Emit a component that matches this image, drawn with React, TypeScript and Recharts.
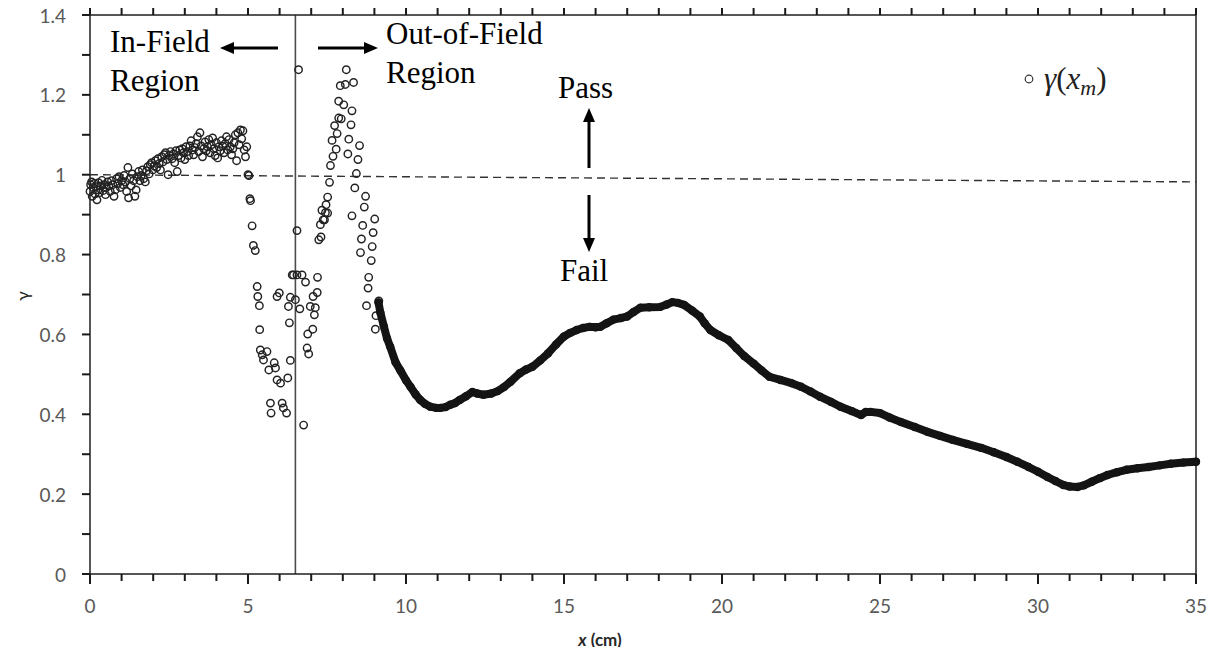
import React from 'react';
import { ScatterChart, Scatter, XAxis, YAxis, ReferenceLine } from 'recharts';

// axis ticks
const X_TICKS = [0, 1, 2, 3, 4, 5, 6, 7, 8, 9, 10, 11, 12, 13, 14, 15, 16, 17, 18, 19, 20, 21, 22, 23, 24, 25, 26, 27, 28, 29, 30, 31, 32, 33, 34, 35];
const X_LABELS = [0, 5, 10, 15, 20, 25, 30, 35];
const Y_TICKS = [0, 0.1, 0.2, 0.3, 0.4, 0.5, 0.6, 0.7, 0.8, 0.9, 1, 1.1, 1.2, 1.3, 1.4];
const Y_LABELS = [0, 0.2, 0.4, 0.6, 0.8, 1, 1.2, 1.4];
const RIGHT_TICKS = [0, 0.1, 0.2, 0.3, 0.4, 0.5, 0.6, 0.7, 0.8, 0.9, 1];

// gamma values, in-field (x < 5 cm)
const inField = [
  [0.00, 0.958], [0.02, 0.975], [0.05, 0.982], [0.07, 0.946], [0.10, 0.968], [0.13, 0.978], [0.16, 0.952],
  [0.19, 0.970], [0.22, 0.937], [0.25, 0.962], [0.27, 0.980], [0.30, 0.955], [0.34, 0.972], [0.38, 0.986],
  [0.41, 0.960], [0.45, 0.975], [0.49, 0.950], [0.52, 0.968], [0.56, 0.982], [0.60, 0.972], [0.64, 0.958],
  [0.68, 0.985], [0.72, 0.975], [0.76, 0.946], [0.80, 0.962], [0.84, 0.990], [0.88, 0.978], [0.92, 0.995],
  [0.96, 0.968], [1.00, 0.985], [1.04, 0.975], [1.08, 0.998], [1.12, 0.982], [1.16, 0.958], [1.20, 1.018],
  [1.22, 0.942], [1.26, 0.990], [1.30, 0.972], [1.34, 1.002], [1.38, 0.985], [1.42, 0.946], [1.46, 0.962],
  [1.50, 0.995], [1.54, 1.008], [1.58, 0.985], [1.62, 0.998], [1.66, 1.012], [1.70, 0.990], [1.75, 0.982],
  [1.79, 1.010], [1.83, 1.020], [1.87, 1.002], [1.91, 1.025], [1.95, 1.030], [1.99, 1.012], [2.03, 1.022],
  [2.07, 1.035], [2.11, 1.018], [2.15, 1.040], [2.19, 1.028], [2.23, 1.012], [2.27, 1.045], [2.31, 1.032],
  [2.35, 1.050], [2.39, 1.055], [2.43, 1.038], [2.47, 1.000], [2.51, 1.048], [2.55, 1.058], [2.60, 1.040],
  [2.64, 1.052], [2.68, 1.030], [2.72, 1.060], [2.76, 1.008], [2.80, 1.048], [2.84, 1.062], [2.88, 1.042],
  [2.92, 1.065], [2.96, 1.055], [3.00, 1.038], [3.04, 1.070], [3.08, 1.058], [3.12, 1.048], [3.16, 1.072],
  [3.20, 1.085], [3.24, 1.062], [3.28, 1.050], [3.32, 1.068], [3.36, 1.078], [3.40, 1.095], [3.44, 1.058],
  [3.48, 1.105], [3.52, 1.072], [3.56, 1.045], [3.60, 1.065], [3.64, 1.082], [3.68, 1.060], [3.72, 1.070],
  [3.76, 1.088], [3.80, 1.055], [3.84, 1.075], [3.88, 1.092], [3.92, 1.065], [3.96, 1.048], [4.00, 1.080],
  [4.04, 1.042], [4.08, 1.070], [4.12, 1.060], [4.16, 1.085], [4.20, 1.072], [4.24, 1.055], [4.28, 1.078],
  [4.32, 1.095], [4.36, 1.062], [4.40, 1.088], [4.44, 1.070], [4.48, 1.050], [4.52, 1.065], [4.56, 1.080],
  [4.60, 1.100], [4.64, 1.035], [4.68, 1.105], [4.72, 1.075], [4.76, 1.112], [4.80, 1.090], [4.84, 1.110],
  [4.88, 1.062], [4.92, 1.045], [4.96, 1.070],
];

// gamma values, penumbra / near out-of-field (scattered)
const penumbra = [
  [5.00, 1.000], [5.03, 0.998], [5.06, 0.940], [5.08, 0.935], [5.13, 0.872], [5.17, 0.823], [5.23, 0.810],
  [5.29, 0.720], [5.31, 0.695], [5.36, 0.672], [5.37, 0.612], [5.39, 0.561], [5.45, 0.549], [5.49, 0.536],
  [5.60, 0.557], [5.66, 0.511], [5.71, 0.428], [5.73, 0.403], [5.83, 0.529], [5.87, 0.516], [5.92, 0.486],
  [5.92, 0.695], [5.99, 0.704], [6.03, 0.478], [6.08, 0.428], [6.12, 0.416], [6.22, 0.403], [6.26, 0.491],
  [6.28, 0.670], [6.31, 0.629], [6.34, 0.535], [6.34, 0.693], [6.40, 0.749], [6.44, 0.749], [6.50, 0.687],
  [6.55, 0.749], [6.55, 0.860], [6.60, 1.263], [6.64, 0.664], [6.71, 0.749], [6.76, 0.373], [6.82, 0.731],
  [6.87, 0.566], [6.89, 0.601], [6.92, 0.551], [6.97, 0.670], [7.05, 0.613], [7.06, 0.695], [7.10, 0.649],
  [7.13, 0.667], [7.19, 0.705], [7.20, 0.743], [7.24, 0.837], [7.29, 0.875], [7.31, 0.844], [7.34, 0.911],
  [7.38, 0.887], [7.42, 0.887], [7.45, 0.905], [7.47, 0.925], [7.52, 0.944], [7.52, 0.904], [7.58, 0.981],
  [7.61, 1.023], [7.66, 1.086], [7.69, 1.046], [7.74, 1.123], [7.79, 1.064], [7.82, 1.103], [7.87, 1.184],
  [7.87, 1.142], [7.92, 1.223], [7.95, 1.140], [8.03, 1.175], [8.08, 1.226], [8.11, 1.263], [8.16, 1.052],
  [8.19, 1.089], [8.26, 1.125], [8.29, 1.160], [8.29, 0.897], [8.34, 1.231], [8.38, 0.967], [8.43, 1.003],
  [8.48, 1.038], [8.53, 1.073], [8.56, 0.805], [8.59, 0.839], [8.63, 0.873], [8.68, 0.919], [8.72, 0.946],
  [8.75, 0.672], [8.80, 0.716], [8.82, 0.743], [8.90, 0.785], [8.93, 0.820], [8.96, 0.855], [9.01, 0.889],
  [9.03, 0.613], [9.05, 0.647], [9.14, 0.684],
];

// gamma values, far out-of-field (densely sampled, reads as a thick curve)
const outField = [
  [9.13, 0.680], [9.19, 0.654], [9.30, 0.620], [9.40, 0.590], [9.50, 0.569], [9.67, 0.530], [9.82, 0.510],
  [10.00, 0.485], [10.14, 0.469], [10.30, 0.450], [10.45, 0.436], [10.60, 0.426], [10.77, 0.419], [10.95, 0.416],
  [11.09, 0.416], [11.25, 0.418], [11.40, 0.424], [11.55, 0.428], [11.70, 0.436], [11.90, 0.445], [12.10, 0.456],
  [12.25, 0.452], [12.45, 0.449], [12.70, 0.452], [12.90, 0.458], [13.10, 0.468], [13.30, 0.481], [13.60, 0.503],
  [13.80, 0.512], [14.00, 0.519], [14.25, 0.535], [14.50, 0.553], [14.75, 0.575], [15.00, 0.595], [15.20, 0.604],
  [15.40, 0.611], [15.60, 0.616], [15.80, 0.619], [16.00, 0.618], [16.15, 0.619], [16.35, 0.628], [16.56, 0.637],
  [16.80, 0.641], [17.00, 0.645], [17.20, 0.656], [17.42, 0.667], [17.70, 0.668], [18.05, 0.669], [18.25, 0.675],
  [18.43, 0.681], [18.60, 0.679], [18.80, 0.674], [19.05, 0.660], [19.30, 0.645], [19.45, 0.628], [19.63, 0.611],
  [19.90, 0.598], [20.20, 0.586], [20.45, 0.566], [20.70, 0.546], [21.00, 0.527], [21.25, 0.510], [21.50, 0.494],
  [21.85, 0.486], [22.20, 0.478], [22.50, 0.469], [22.80, 0.457], [23.10, 0.444], [23.45, 0.431], [23.75, 0.419],
  [24.10, 0.408], [24.40, 0.398], [24.55, 0.406], [24.70, 0.406], [25.00, 0.403], [25.30, 0.392], [25.65, 0.381],
  [26.10, 0.368], [26.50, 0.356], [26.90, 0.346], [27.30, 0.336], [27.75, 0.326], [28.20, 0.316], [28.60, 0.305],
  [29.00, 0.293], [29.35, 0.281], [29.70, 0.268], [30.00, 0.256], [30.30, 0.243], [30.55, 0.233], [30.80, 0.223],
  [31.00, 0.219], [31.25, 0.218], [31.45, 0.222], [31.70, 0.231], [31.95, 0.240], [32.20, 0.248], [32.50, 0.255],
  [32.80, 0.261], [33.15, 0.265], [33.50, 0.268], [33.85, 0.272], [34.20, 0.276], [34.60, 0.279], [35.00, 0.281],
];

const FIELD_EDGE = 6.5;
const PASS_LINE = [{ x: 0, y: 1 }, { x: 35, y: 0.982 }];

const toPts = (arr: number[][]) => arr.map(([x, y]) => ({ x, y }));

// tick positions on each frame edge, placed through the axis scales
const bottomMarks = X_TICKS.map((t) => ({ x: t, y: 0, major: X_LABELS.includes(t) }));
const topMarks = X_TICKS.map((t) => ({ x: t, y: 1.4 }));
const leftMarks = Y_TICKS.map((t) => ({ x: 0, y: t }));
const rightMarks = RIGHT_TICKS.map((t) => ({ x: 35, y: t }));

const W = 1218;
const H = 655;
const AXIS = '#1e1e1e';
const LABEL = '#595959';
const TICK_FONT = 'Lato, "Open Sans", sans-serif';
const SERIF = '"Liberation Serif", "Times New Roman", serif';
const MARK = '#1a1a1a';

const BottomTick = (props: any) => {
  const { x, y, payload } = props;
  if (!X_LABELS.includes(payload.value)) return <g />;
  return (
    <text x={x} y={y + 31} textAnchor="middle" dominantBaseline="central" fill={LABEL} fontSize={19} fontFamily={TICK_FONT}>
      {payload.value}
    </text>
  );
};

const LeftTick = (props: any) => {
  const { x, y, payload } = props;
  const v = Math.round(payload.value * 10) / 10;
  const labelled = Y_LABELS.some((l) => Math.abs(l - v) < 1e-6);
  if (!labelled) return <g />;
  return (
    <text x={x - 24} y={y} textAnchor="end" dominantBaseline="central" fill={LABEL} fontSize={19} fontFamily={TICK_FONT}>
      {String(v)}
    </text>
  );
};

const NoLabel = () => <g />;

const BottomMark = (props: any) => {
  const { cx, cy, payload } = props;
  const len = payload && payload.major ? 10 : 7;
  return <path d={`M${cx},${cy}L${cx},${cy + len}`} stroke={MARK} strokeWidth={2} fill="none" />;
};
const TopMark = ({ cx, cy }: any) => (
  <path d={`M${cx},${cy}L${cx},${cy - 7}`} stroke={MARK} strokeWidth={2} fill="none" />
);
const LeftMark = ({ cx, cy }: any) => (
  <path d={`M${cx},${cy}L${cx - 8},${cy}`} stroke={MARK} strokeWidth={2} fill="none" />
);
const RightMark = ({ cx, cy }: any) => (
  <path d={`M${cx},${cy}L${cx + 8},${cy}`} stroke={MARK} strokeWidth={2} fill="none" />
);

const OpenCircle = ({ cx, cy }: any) => (
  <circle cx={cx} cy={cy} r={3.7} fill="none" stroke="#222" strokeWidth={1.45} />
);

const DenseDot = ({ cx, cy }: any) => <circle cx={cx} cy={cy} r={4.2} fill="#141414" />;

const Arrow = ({ x1, y1, x2, y2 }: { x1: number; y1: number; x2: number; y2: number }) => {
  const ang = Math.atan2(y2 - y1, x2 - x1);
  const len = 14;
  const half = 6;
  const bx = x2 - len * Math.cos(ang);
  const by = y2 - len * Math.sin(ang);
  const px = -Math.sin(ang) * half;
  const py = Math.cos(ang) * half;
  return (
    <g>
      <line x1={x1} y1={y1} x2={bx} y2={by} stroke="#000" strokeWidth={3} />
      <polygon points={`${x2},${y2} ${bx + px},${by + py} ${bx - px},${by - py}`} fill="#000" />
    </g>
  );
};

export default function App() {
  return (
    <div style={{ position: 'relative', width: W, height: H, margin: -8 }}>
      <svg width={W} height={H} style={{ position: 'absolute', left: 0, top: 0 }}>
        {/* region annotations */}
        <text x={110} y={52} fontSize={31} fontFamily={SERIF} fill="#000">In-Field</text>
        <text x={110} y={91} fontSize={31} fontFamily={SERIF} fill="#000">Region</text>
        <Arrow x1={278} y1={48} x2={220} y2={48} />
        <Arrow x1={318} y1={48} x2={378} y2={48} />
        <text x={386} y={44} fontSize={31} fontFamily={SERIF} fill="#000">Out-of-Field</text>
        <text x={386} y={83} fontSize={31} fontFamily={SERIF} fill="#000">Region</text>

        <text x={558} y={98} fontSize={31} fontFamily={SERIF} fill="#000">Pass</text>
        <Arrow x1={589} y1={168} x2={589} y2={108} />
        <Arrow x1={589} y1={195} x2={589} y2={252} />
        <text x={560} y={281} fontSize={31} fontFamily={SERIF} fill="#000">Fail</text>

        {/* legend */}
        <circle cx={1029} cy={79} r={3.8} fill="none" stroke="#333" strokeWidth={1.2} />
        <text x={1044} y={89} fontSize={31} fontFamily={SERIF} fill="#222">
          <tspan fontStyle="italic">γ</tspan>
          <tspan>(</tspan>
          <tspan fontStyle="italic">x</tspan>
          <tspan fontStyle="italic" fontSize={22} dy={6}>m</tspan>
          <tspan dy={-6}>)</tspan>
        </text>

        {/* axis titles */}
        <text x={22} y={296} fontSize={18} fontFamily={TICK_FONT} fill="#262626" textAnchor="middle" dominantBaseline="central" transform="rotate(-90 22 296)">
          γ
        </text>
        <text x={600} y={646} fontSize={17} fontFamily={TICK_FONT} fill="#262626" textAnchor="middle">
          <tspan fontStyle="italic" fontWeight="bold">x</tspan>
          <tspan fontWeight="bold"> (cm)</tspan>
        </text>
      </svg>

      <ScatterChart width={W} height={H} margin={{ top: 11, right: 14, bottom: 0, left: 0 }}>
        <XAxis
          xAxisId="bottom"
          type="number"
          dataKey="x"
          domain={[0, 35]}
          ticks={X_TICKS}
          interval={0}
          height={81}
          tickSize={0}
          tickMargin={0}
          tickLine={false}
          tick={<BottomTick />}
          axisLine={{ stroke: AXIS, strokeWidth: 1.5 }}
        />
        <XAxis
          xAxisId="top"
          orientation="top"
          type="number"
          domain={[0, 35]}
          ticks={X_TICKS}
          interval={0}
          height={4}
          tickSize={0}
          tickLine={false}
          tick={<NoLabel />}
          axisLine={{ stroke: AXIS, strokeWidth: 1.5 }}
        />
        <YAxis
          yAxisId="left"
          type="number"
          dataKey="y"
          domain={[0, 1.4]}
          ticks={Y_TICKS}
          interval={0}
          width={90}
          tickSize={0}
          tickMargin={0}
          tickLine={false}
          tick={<LeftTick />}
          axisLine={{ stroke: AXIS, strokeWidth: 1.5 }}
        />
        <YAxis
          yAxisId="right"
          orientation="right"
          type="number"
          domain={[0, 1]}
          ticks={RIGHT_TICKS}
          interval={0}
          width={8}
          tickSize={0}
          tickLine={false}
          tick={<NoLabel />}
          axisLine={{ stroke: AXIS, strokeWidth: 1.5 }}
        />

        {/* frame tick marks */}
        <Scatter xAxisId="bottom" yAxisId="left" data={bottomMarks} shape={<BottomMark />} legendType="none" isAnimationActive={false} />
        <Scatter xAxisId="bottom" yAxisId="left" data={topMarks} shape={<TopMark />} legendType="none" isAnimationActive={false} />
        <Scatter xAxisId="bottom" yAxisId="left" data={leftMarks} shape={<LeftMark />} legendType="none" isAnimationActive={false} />
        <Scatter xAxisId="bottom" yAxisId="right" data={rightMarks} shape={<RightMark />} legendType="none" isAnimationActive={false} />

        <ReferenceLine
          xAxisId="bottom"
          yAxisId="left"
          segment={PASS_LINE}
          stroke="#333"
          strokeWidth={1.4}
          strokeDasharray="8 5"
          ifOverflow="visible"
        />
        <ReferenceLine xAxisId="bottom" yAxisId="left" x={FIELD_EDGE} stroke="#4a4a4a" strokeWidth={1.6} />
        <Scatter
          xAxisId="bottom"
          yAxisId="left"
          name="in-field"
          data={toPts(inField)}
          shape={<OpenCircle />}
          isAnimationActive={false}
        />
        <Scatter
          xAxisId="bottom"
          yAxisId="left"
          name="penumbra"
          data={toPts(penumbra)}
          shape={<OpenCircle />}
          isAnimationActive={false}
        />
        <Scatter
          xAxisId="bottom"
          yAxisId="left"
          name="out-of-field"
          data={toPts(outField)}
          shape={<DenseDot />}
          line={{ stroke: '#141414', strokeWidth: 8, strokeLinejoin: 'round', strokeLinecap: 'round' }}
          lineType="joint"
          isAnimationActive={false}
        />
      </ScatterChart>
    </div>
  );
}
